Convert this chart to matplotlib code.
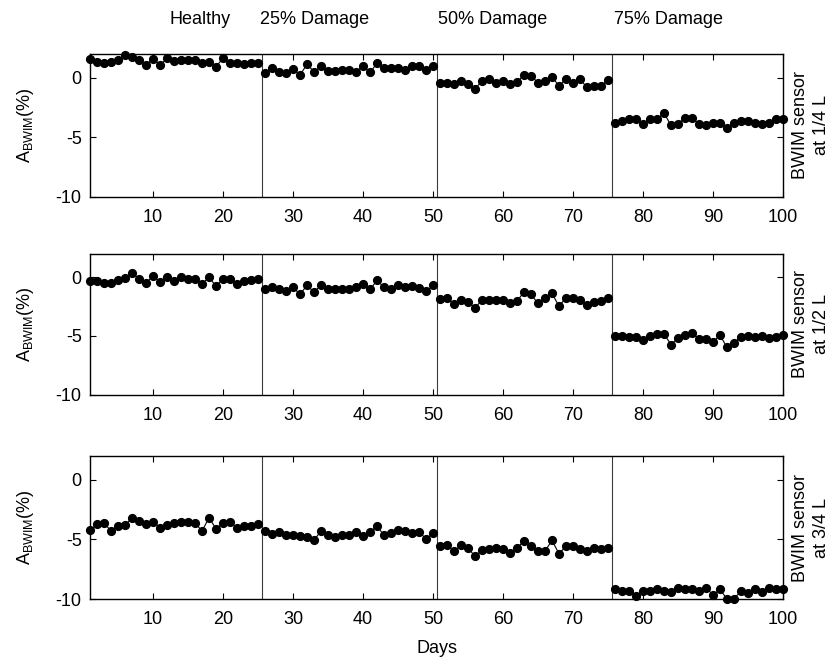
import numpy as np
import matplotlib
matplotlib.use("Agg")
import matplotlib.pyplot as plt

plt.rcParams['font.family'] = ['Liberation Sans', 'DejaVu Sans']
plt.rcParams['mathtext.fontset'] = 'custom'
plt.rcParams['mathtext.rm'] = 'Liberation Sans'
plt.rcParams['mathtext.it'] = 'Liberation Sans'
plt.rcParams['axes.unicode_minus'] = False

days = list(range(1, 101))
stages = ["Healthy", "25% Damage", "50% Damage", "75% Damage"]
stage_bounds = [25.5, 50.5, 75.5]
sensor_labels = ["BWIM sensor\nat 1/4 L", "BWIM sensor\nat 1/2 L", "BWIM sensor\nat 3/4 L"]

sensor_quarter = [
    1.61, 1.36, 1.24, 1.36, 1.50, 1.95, 1.78, 1.47, 1.07, 1.61,
    1.07, 1.64, 1.41, 1.50, 1.53, 1.50, 1.27, 1.33, 0.93, 1.64,
    1.27, 1.21, 1.19, 1.21, 1.24,
    0.40, 0.79, 0.51, 0.42, 0.76, 0.23, 1.13, 0.51, 0.96, 0.56,
    0.56, 0.68, 0.65, 0.51, 0.96, 0.45, 1.21, 0.82, 0.79, 0.79,
    0.65, 1.02, 0.99, 0.62, 0.96,
    -0.40, -0.40, -0.54, -0.25, -0.54, -0.96, -0.25, -0.11, -0.40, -0.31,
    -0.54, -0.37, 0.25, 0.14, -0.40, -0.25, 0.06, -0.68, -0.08, -0.40,
    -0.11, -0.82, -0.73, -0.68, -0.17,
    -3.79, -3.64, -3.50, -3.45, -3.90, -3.50, -3.50, -2.97, -4.01, -3.90,
    -3.36, -3.36, -3.90, -4.01, -3.84, -3.79, -4.27, -3.79, -3.64, -3.64,
    -3.79, -3.90, -3.79, -3.50, -3.50,
]

sensor_half = [
    -0.28, -0.31, -0.46, -0.46, -0.20, -0.03, 0.40, -0.11, -0.46, 0.11,
    -0.40, 0.00, -0.31, 0.00, -0.11, -0.17, -0.54, 0.00, -0.74, -0.11,
    -0.11, -0.57, -0.34, -0.26, -0.11,
    -0.97, -0.85, -1.03, -1.17, -0.83, -1.45, -0.68, -1.25, -0.68, -1.03,
    -1.03, -1.03, -1.03, -0.85, -0.57, -1.03, -0.26, -0.83, -1.03, -0.68,
    -0.85, -0.74, -0.91, -1.20, -0.68,
    -1.88, -1.79, -2.31, -1.94, -2.08, -2.59, -1.94, -1.94, -1.94, -1.94,
    -2.17, -2.02, -1.25, -1.45, -2.22, -1.79, -1.37, -2.45, -1.74, -1.74,
    -1.94, -2.36, -2.08, -2.02, -1.79,
    -4.99, -5.01, -5.13, -5.07, -5.36, -5.01, -4.87, -4.84, -5.73, -5.21,
    -4.93, -4.79, -5.24, -5.30, -5.50, -4.93, -5.98, -5.58, -5.07, -5.01,
    -5.07, -5.01, -5.21, -5.07, -4.93,
]

sensor_three_quarter = [
    -4.24, -3.74, -3.60, -4.30, -3.88, -3.82, -3.18, -3.46, -3.74, -3.52,
    -4.02, -3.80, -3.60, -3.54, -3.54, -3.60, -4.30, -3.18, -4.10, -3.66,
    -3.52, -4.02, -3.88, -3.88, -3.74,
    -4.30, -4.58, -4.38, -4.66, -4.61, -4.72, -4.78, -5.06, -4.30, -4.66,
    -4.80, -4.66, -4.66, -4.38, -4.72, -4.38, -3.88, -4.66, -4.50, -4.22,
    -4.30, -4.50, -4.38, -4.94, -4.50,
    -5.56, -5.50, -5.98, -5.50, -5.70, -6.43, -5.87, -5.84, -5.73, -5.81,
    -6.12, -5.70, -5.14, -5.59, -5.98, -5.98, -5.08, -6.20, -5.56, -5.56,
    -5.78, -5.98, -5.70, -5.78, -5.73,
    -9.20, -9.29, -9.34, -9.71, -9.34, -9.29, -9.20, -9.34, -9.45, -9.06,
    -9.20, -9.20, -9.34, -9.06, -9.65, -9.20, -10.00, -9.97, -9.34, -9.51,
    -9.20, -9.45, -9.06, -9.20, -9.20,
]

xticks = [10, 20, 30, 40, 50, 60, 70, 80, 90, 100]
yticks = [-10, -5, 0]

W, H = 835, 658
fig = plt.figure(figsize=(W / 100, H / 100), dpi=100)

left, right = 90 / W, 783 / W
panels = [(54, 196.5), (254, 394.5), (456, 599)]
series = [sensor_quarter, sensor_half, sensor_three_quarter]

d = np.array(days)
for i, ((top, bot), vals, slab) in enumerate(zip(panels, series, sensor_labels)):
    ax = fig.add_axes([left, 1 - bot / H, right - left, (bot - top) / H])
    v = np.array(vals)
    seg_edges = [0] + stage_bounds + [101]
    for s in range(4):
        m = (d > seg_edges[s]) & (d < seg_edges[s + 1])
        ax.plot(d[m], v[m], '-o', color='black', lw=0.8, ms=5.6,
                mfc='black', mec='black', clip_on=False, zorder=3)
    for b in stage_bounds:
        ax.axvline(b, color='#3a3a3a', lw=0.8, zorder=2)
    ax.set_xlim(1, 100)
    ax.set_ylim(-10, 2)
    ax.set_xticks(xticks)
    ax.set_yticks(yticks)
    ax.tick_params(direction='in', top=True, right=True, length=4, width=0.8,
                   labelsize=13)
    ax.tick_params(axis='x', pad=9)
    ax.tick_params(axis='y', pad=6)
    for sp in ax.spines.values():
        sp.set_linewidth(1.0)
    ax.set_ylabel(r'$\mathregular{A_{BWIM}}$(%)', fontsize=13)
    ax.yaxis.set_label_coords(-0.078, 0.5)
    ax.text(1.041, 0.5, slab, transform=ax.transAxes, rotation=90,
            ha='center', va='center', fontsize=13, linespacing=1.3,
            multialignment='center')
    if i == 2:
        ax.set_xlabel('Days', fontsize=13, labelpad=8)
    if i == 0:
        for name, xc in zip(stages, [200, 315, 493, 668]):
            fig.text(xc / W, 1 - 19 / H, name, ha='center', va='center',
                     fontsize=13)

fig.savefig('out.png', dpi=100)
